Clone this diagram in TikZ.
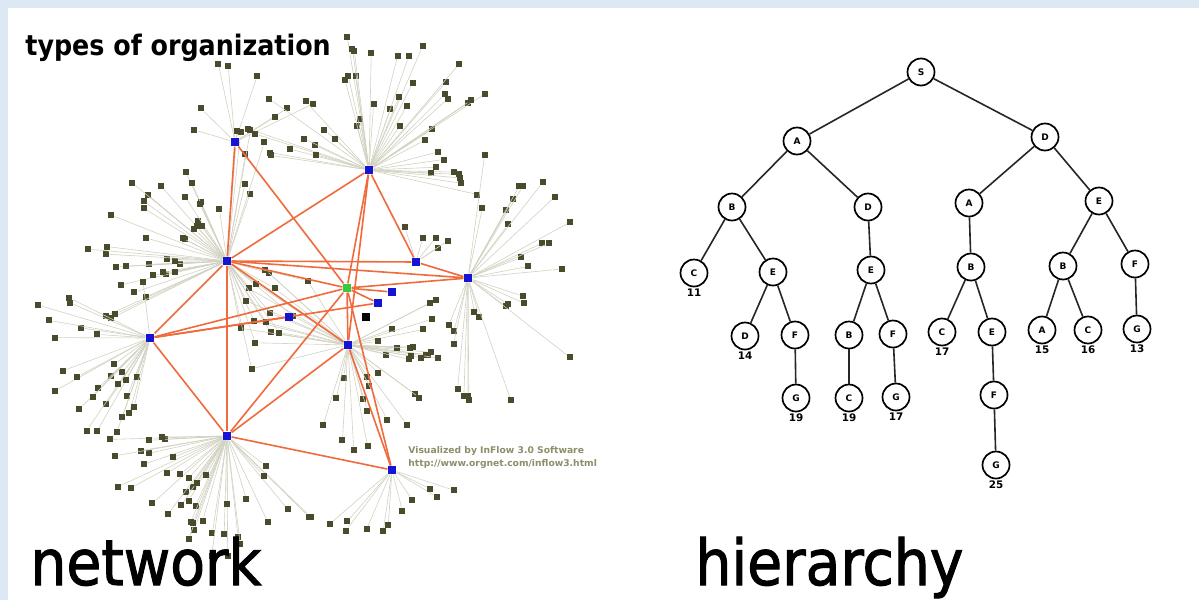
\documentclass[tikz,border=0pt]{standalone}
\usepackage{fontspec}
\setsansfont{DejaVu Sans}
\newfontfamily\headfont{DejaVu Sans Condensed}
\newfontfamily\capfont[FakeBold=1.6]{DejaVu Sans Condensed}
\usetikzlibrary{calc}
\definecolor{frameC}{HTML}{DDE8F5}
\definecolor{spokeC}{HTML}{D2D2C2}
\definecolor{olv}{HTML}{4A4A2C}
\definecolor{hubB}{HTML}{1414D2}
\definecolor{hubG}{HTML}{3CC83C}
\definecolor{tieC}{HTML}{F06A3C}
\definecolor{creditC}{HTML}{8E8E6A}
\pgfdeclarelayer{paper}
\pgfdeclarelayer{spokes}
\pgfdeclarelayer{ties}
\pgfsetlayers{paper,spokes,ties,main}
\tikzset{
  leaf/.style={fill=olv, inner sep=0pt, minimum size=3pt},
  hub/.style={fill=hubB, inner sep=0pt, minimum size=4.2pt},
  spoke/.style={spokeC, line width=0.3pt},
  link/.style={tieC, line width=0.8pt},
  tnode/.style={circle, draw, line width=0.85pt, minimum size=13.5pt, inner sep=0pt,
    font=\sffamily\bfseries\fontsize{4.5}{4.5}\selectfont},
  num/.style={font=\sffamily\bfseries\fontsize{5.2}{5.2}\selectfont, inner sep=0.6pt},
  branch/.style={line width=0.8pt, black!85},
  big/.style={font=\capfont\fontsize{31.6}{34}\selectfont, inner sep=0pt},
  credit/.style={font=\sffamily\bfseries\fontsize{4.6}{5}\selectfont, creditC, inner sep=0pt},
}

\begin{document}
\begin{tikzpicture}[x=0.5pt,y=-0.5pt]

% ============ frame ==========================================================
\begin{pgfonlayer}{paper}
  \fill[frameC] (0,0) rectangle (1199,600);
  \fill[white] (8,8) rectangle (1199,600);
\end{pgfonlayer}
\useasboundingbox (0,0) rectangle (1199,600);

\node[font=\headfont\bfseries\fontsize{14.1}{16}\selectfont, inner sep=0pt, anchor=base west]
  (title) at (25,55) {types of organization};

% ============ network ========================================================
\node[hub] (h1) at (235,142) {};
\node[hub] (h2) at (369,170) {};
\node[hub] (h3) at (227,261) {};
\node[hub] (h4) at (416,262) {};
\node[hub] (h5) at (468,278) {};
\node[hub] (h6) at (150,338) {};
\node[hub] (h7) at (348,345) {};
\node[hub] (h8) at (227,436) {};
\node[hub] (h9) at (392,470) {};
\node[hub] (b1) at (392,292) {};
\node[hub] (b2) at (378,303) {};
\node[hub] (b3) at (289,317) {};
\node[hub, fill=hubG] (gr) at (347,288) {};
\node[hub, fill=black] (bk) at (366,317) {};

% fans of members round each hub: hub/angle from/angle to/r min/r max/count
\pgfmathsetseed{4127}
\begin{pgfonlayer}{spokes}
\foreach \h/\amin/\amax/\rmin/\rmax/\n in {
    h1/-170/-20/40/100/8, h2/-175/15/45/140/48, h3/150/290/40/140/45,
    h4/-110/-30/25/60/5, h5/-95/115/35/130/30, h6/95/265/40/125/28,
    h7/-30/110/30/115/32, h8/30/190/40/122/42, h9/15/140/30/85/11}{
  \foreach \i in {1,...,\n}{
    \pgfmathsetmacro\ang{\amin+rnd*(\amax-\amin)}
    \pgfmathsetmacro\rad{\rmin+rnd*(\rmax-\rmin)}
    \node[leaf] (lf-\h-\i) at ($(\h)+(\ang:\rad)$) {};
    \draw[spoke] (\h) -- (lf-\h-\i);
  }
}
% members in the middle, tied to two hubs
\foreach \i in {1,...,16}{
  \pgfmathsetmacro\ang{10+rnd*70}
  \pgfmathsetmacro\rad{35+rnd*80}
  \node[leaf] (md-\i) at ($(h3)+(\ang:\rad)$) {};
  \draw[spoke] (h3) -- (md-\i) -- (h7);
}
\end{pgfonlayer}

% ties between hubs
\begin{pgfonlayer}{ties}
  \foreach \a/\b in {h1/h3, h1/gr, h2/h3, h2/h4, h2/h7, h2/gr, h3/h5, h3/h4,
      h3/gr, h3/h8, h3/h7, h3/h6, h6/gr, h6/b2, h6/b3, h6/h8, h8/gr, h8/h7,
      h8/h9, h7/h9, gr/h9, gr/h5, gr/b1, gr/b2, h4/h5, gr/h7}
    \draw[link] (\a) -- (\b);
\end{pgfonlayer}

\node[credit, anchor=west] (cr1) at (408,451) {Visualized by InFlow 3.0 Software};
\node[credit, anchor=west] (cr2) at (408,464) {http://www.orgnet.com/inflow3.html};

% ============ hierarchy ======================================================
\node[tnode] (s)  at (921,72)  {S};
\node[tnode] (a)  at (797,141) {A};
\node[tnode] (d)  at (1045,137) {D};
\node[tnode] (b)  at (732,207) {B};
\node[tnode] (d2) at (868,207) {D};
\node[tnode] (a2) at (969,203) {A};
\node[tnode] (e)  at (1099,201) {E};
\node[tnode, label={[num]below:11}] (c1) at (694,273) {C};
\node[tnode] (e1) at (773,272) {E};
\node[tnode] (e2) at (871,270) {E};
\node[tnode] (b2t) at (971,267) {B};
\node[tnode] (b3t) at (1063,266) {B};
\node[tnode] (f1) at (1135,264) {F};
\node[tnode, label={[num]below:14}] (d3) at (745,336) {D};
\node[tnode] (f2) at (795,335) {F};
\node[tnode] (b4) at (849,335) {B};
\node[tnode] (f3) at (893,334) {F};
\node[tnode, label={[num]below:17}] (c2) at (942,332) {C};
\node[tnode] (e3) at (992,332) {E};
\node[tnode, label={[num]below:15}] (a3) at (1042,330) {A};
\node[tnode, label={[num]below:16}] (c3) at (1088,330) {C};
\node[tnode, label={[num]below:13}] (g1) at (1137,329) {G};
\node[tnode, label={[num]below:19}] (g2) at (796,398) {G};
\node[tnode, label={[num]below:19}] (c4) at (849,398) {C};
\node[tnode, label={[num]below:17}] (g3) at (896,397) {G};
\node[tnode] (f4) at (994,395) {F};
\node[tnode, label={[num]below:25}] (g4) at (996,465) {G};

\foreach \p/\c in {s/a, s/d, a/b, a/d2, d/a2, d/e, b/c1, b/e1, d2/e2, a2/b2t,
    e/b3t, e/f1, e1/d3, e1/f2, e2/b4, e2/f3, b2t/c2, b2t/e3, b3t/a3, b3t/c3,
    f1/g1, f2/g2, b4/c4, f3/g3, e3/f4, f4/g4}
  \draw[branch] (\p) -- (\c);

% ============ captions =======================================================
\node[big, anchor=base west] (net) at (30,585) {network};
\node[big, anchor=base west] (hier) at (695,585) {hierarchy};

\end{tikzpicture}
\end{document}
